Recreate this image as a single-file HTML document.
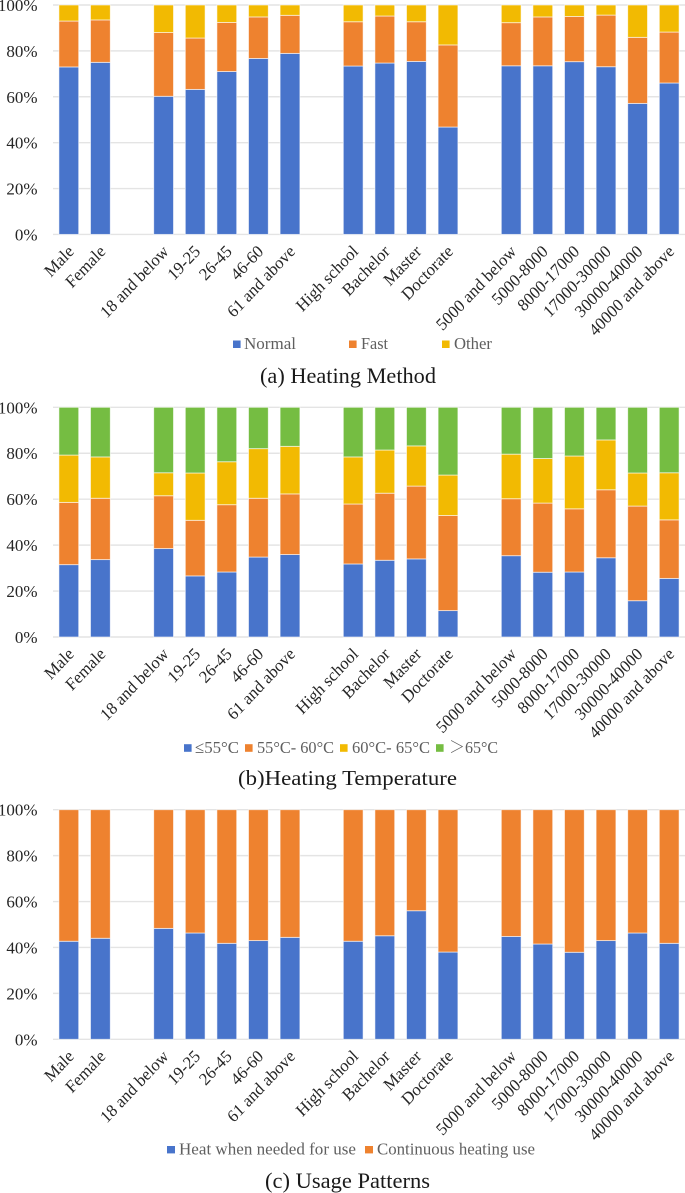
<!DOCTYPE html>
<html lang="en">
<head>
<meta charset="utf-8">
<title>Heating survey charts</title>
<style>
html,body{margin:0;padding:0;background:#fff;width:685px;height:1193px;overflow:hidden}
svg{display:block;filter:blur(.35px)}
text{font-family:"Liberation Serif","Noto Serif CJK SC",serif}
.tick{font-size:17px;fill:#262626;text-anchor:end}
.cat{font-size:16.5px;fill:#262626;text-anchor:end}
.leg{font-size:17px;fill:#5f5f5f}
.ttl{font-size:22.5px;fill:#1a1a1a}
</style>
</head>
<body>
<svg id="root" xmlns="http://www.w3.org/2000/svg" width="685" height="1193" viewBox="0 0 685 1193">
  <rect x="0" y="0" width="685" height="1193" fill="#fff"/>

  <g id="chart-a"></g>
  <g>
    <rect x="233" y="340.5" width="7.6" height="7.5" fill="#4874cb"/>
    <text class="leg" x="244" y="349" textLength="52" lengthAdjust="spacingAndGlyphs">Normal</text>
    <rect x="349" y="340.5" width="7.6" height="7.5" fill="#ee822f"/>
    <text class="leg" x="361" y="349" textLength="27" lengthAdjust="spacingAndGlyphs">Fast</text>
    <rect x="442" y="340.5" width="7.6" height="7.5" fill="#f2ba02"/>
    <text class="leg" x="454" y="349" textLength="38" lengthAdjust="spacingAndGlyphs">Other</text>
  </g>
  <text class="ttl" x="260" y="383" textLength="176" lengthAdjust="spacingAndGlyphs">(a) Heating Method</text>

  <g id="chart-b"></g>
  <g>
    <rect x="184" y="744.2" width="7.6" height="7.6" fill="#4874cb"/>
    <text class="leg" x="195" y="753" textLength="44" lengthAdjust="spacingAndGlyphs">≤55°C</text>
    <rect x="245" y="744.2" width="7.6" height="7.6" fill="#ee822f"/>
    <text class="leg" x="257" y="753" textLength="77" lengthAdjust="spacingAndGlyphs">55°C- 60°C</text>
    <rect x="340" y="744.2" width="7.6" height="7.6" fill="#f2ba02"/>
    <text class="leg" x="352" y="753" textLength="78" lengthAdjust="spacingAndGlyphs">60°C- 65°C</text>
    <rect x="436" y="744.2" width="7.6" height="7.6" fill="#75bd42"/>
    <text class="leg" x="449" y="753" textLength="49" lengthAdjust="spacingAndGlyphs">＞65°C</text>
  </g>
  <text class="ttl" style="font-size:21.5px" x="238" y="785" textLength="219" lengthAdjust="spacingAndGlyphs">(b)Heating Temperature</text>

  <g id="chart-c"></g>
  <g>
    <rect x="167" y="1146" width="8" height="7.4" fill="#4874cb"/>
    <text class="leg" x="179" y="1154.3" textLength="177" lengthAdjust="spacingAndGlyphs">Heat when needed for use</text>
    <rect x="365" y="1146" width="8" height="7.4" fill="#ee822f"/>
    <text class="leg" x="377" y="1154.3" textLength="158" lengthAdjust="spacingAndGlyphs">Continuous heating use</text>
  </g>
  <text class="ttl" x="265" y="1188" textLength="165" lengthAdjust="spacingAndGlyphs">(c) Usage Patterns</text>
</svg>

<script>
const categories = ["Male","Female","18 and below","19-25","26-45","46-60","61 and above","High school","Bachelor","Master","Doctorate","5000 and below","5000-8000","8000-17000","17000-30000","30000-40000","40000 and above"];
const groupSizes = [2,5,4,6];
const yTicks = [0,20,40,60,80,100];

const methodNormal = [73,75,60.2,63.2,71,76.7,78.9,73.4,74.7,75.4,46.8,73.5,73.5,75.3,73.1,57.1,66];
const methodFast = [20,18.5,27.8,22.4,21.4,18.1,16.6,19.3,20.5,17.3,35.8,18.8,21.3,19.7,22.5,28.8,22.2];
const methodOther = [7,6.5,12,14.4,7.6,5.2,4.5,7.3,4.8,7.3,17.4,7.7,5.2,5,4.4,14.1,11.8];

const tempBelow55 = [31.5,33.7,38.5,26.6,28.3,34.8,35.9,31.8,33.4,34,11.5,35.4,28.2,28.3,34.5,15.8,25.5];
const temp55to60 = [27.1,26.7,23,24.2,29.3,25.6,26.4,26.1,29.2,31.7,41.4,24.8,30.1,27.5,29.6,41.2,25.5];
const temp60to65 = [20.6,18,10,20.6,18.7,21.6,20.7,20.5,18.8,17.5,17.6,19.4,19.4,23,21.7,14.4,20.5];
const tempAbove65 = [20.8,21.6,28.5,28.6,23.7,18,17,21.6,18.6,16.8,29.5,20.4,22.3,21.2,14.2,28.6,28.5];

const usageHeatWhenNeeded = [42.7,44,48.3,46.3,41.8,43,44.4,42.7,45.1,56,38,44.8,41.5,37.9,43,46.3,41.8];
const usageContinuous = [57.3,56,51.7,53.7,58.2,57,55.6,57.3,54.9,44,62,55.2,58.5,62.1,57,53.7,58.2];

const BLUE = "#4874cb", ORANGE = "#ee822f", YELLOW = "#f2ba02", GREEN = "#75bd42";
const NS = "http://www.w3.org/2000/svg";

function slotOf(index) {
  let slot = index, seen = 0;
  for (const size of groupSizes) {
    seen += size;
    if (index >= seen) slot += 1;
  }
  return slot;
}
function xScale(index) {
  return 68.8 + 31.6 * slotOf(index);
}
function make(tag, attrs, parent) {
  const el = document.createElementNS(NS, tag);
  for (const k in attrs) el.setAttribute(k, attrs[k]);
  parent.appendChild(el);
  return el;
}

function drawChart(id, y100, y0, seriesList, colors, seriesKeys) {
  const g = document.getElementById(id);
  const yScale = v => y0 - (y0 - y100) * v / 100;

  yTicks.forEach(t => {
    const line = make("line", {x1: 53, x2: 685, y1: yScale(t), y2: yScale(t), stroke: "#e4e4e4", "stroke-width": 1.4}, g);
    
    
    const label = make("text", {x: 37.5, y: yScale(t) + 6, class: "tick"}, g);
    
    
    label.textContent = t + "%";
  });

  categories.forEach((name, i) => {
    const cx = xScale(i);
    let acc = 0;
    seriesList.forEach((series, s) => {
      const top = yScale(acc + series[i]);
      const bottom = yScale(acc);
      acc += series[i];
      const bar = make("rect", {
        x: cx - 9.9, y: top, width: 19.8, height: Math.max(0, bottom - top),
        fill: colors[s], stroke: "#ffffff", "stroke-opacity": 0.65, "stroke-width": 0.9
      }, g);
      
      
    });
    const lx = cx + 6, ly = y0 + 18;
    const cat = make("text", {x: 0, y: 0, class: "cat", transform: "translate(" + lx + " " + ly + ") scale(1 1.06) rotate(-45)"}, g);
    
    
    cat.textContent = name;
  });
}

drawChart("chart-a", 5, 234.4,
  [methodNormal, methodFast, methodOther],
  [BLUE, ORANGE, YELLOW],
  ["normal", "fast", "other"]);
drawChart("chart-b", 407.3, 637,
  [tempBelow55, temp55to60, temp60to65, tempAbove65],
  [BLUE, ORANGE, YELLOW, GREEN],
  ["below-55", "55-60", "60-65", "above-65"]);
drawChart("chart-c", 809.7, 1039.3,
  [usageHeatWhenNeeded, usageContinuous],
  [BLUE, ORANGE],
  ["heat-when-needed", "continuous-heating"]);
</script>
</body>
</html>
